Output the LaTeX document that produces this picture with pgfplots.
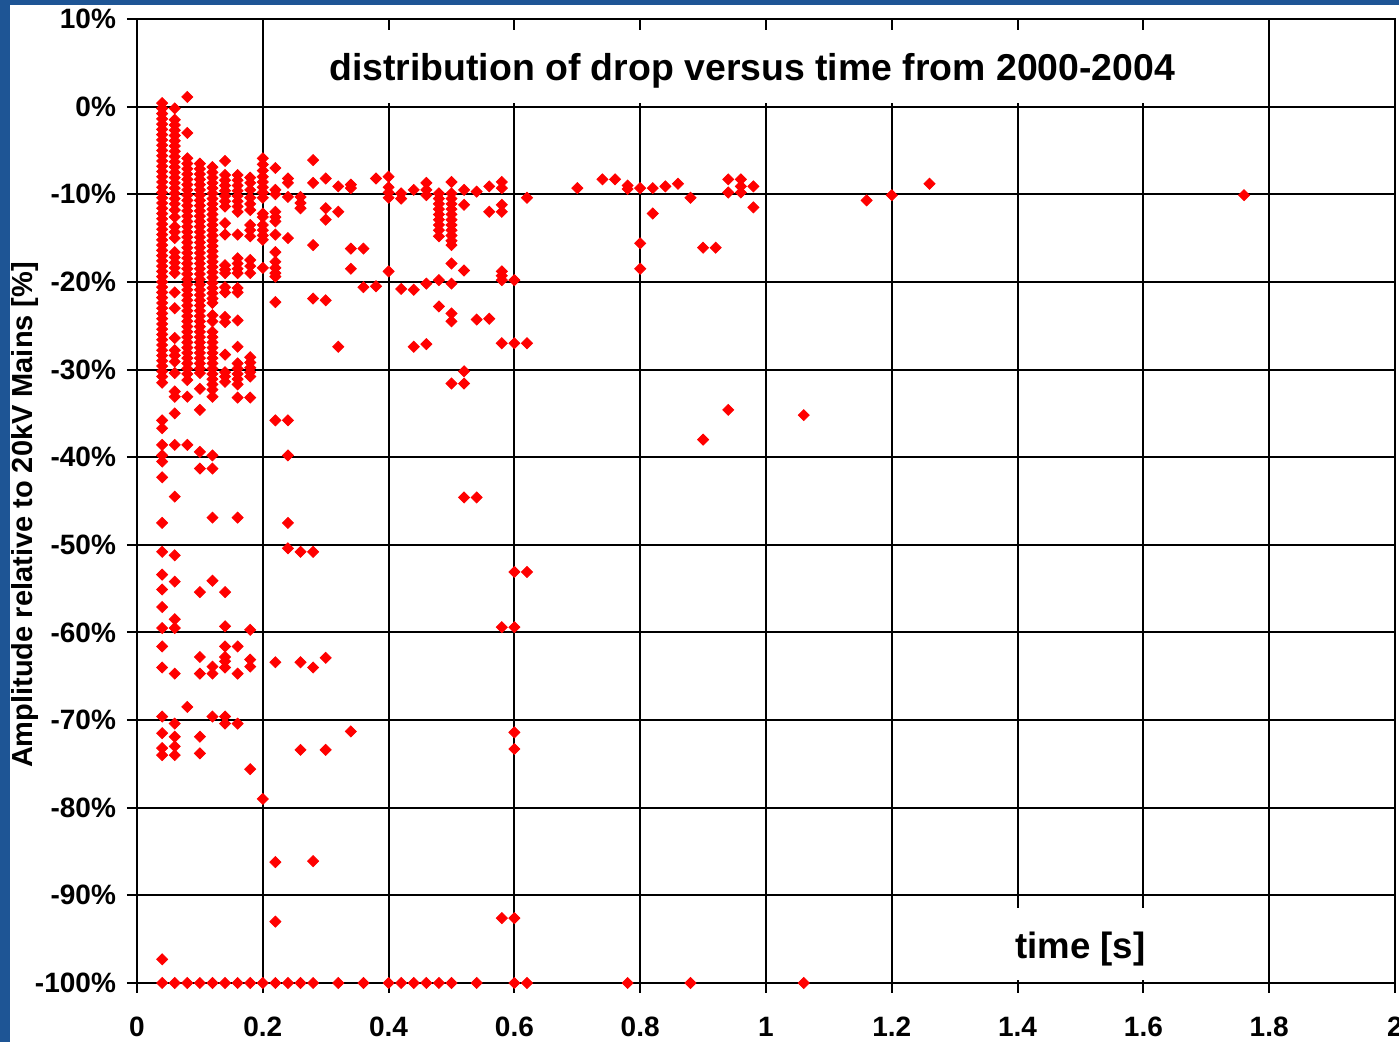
\documentclass[border=0pt]{standalone}
\usepackage{pgfplots}
\pgfplotsset{compat=1.18}
\usepackage{fontspec}
\setmainfont{Liberation Sans}
\definecolor{frameblue}{HTML}{1E5595}

\begin{document}
\begin{tikzpicture}[x=1pt,y=1pt]
% slide background: blue strip left and top, white elsewhere
\fill[frameblue] (-68.5,-29.5) rectangle (631,491.5);
\fill[white] (-63.5,-29.5) rectangle (631,489);
\begin{axis}[
  at={(0,0)}, anchor=south west,
  scale only axis, width=629pt, height=482pt,
  xmin=0, xmax=2, ymin=-100, ymax=10,
  xtick={0,0.2,0.4,0.6,0.8,1,1.2,1.4,1.6,1.8,2},
  xticklabels={0,0.2,0.4,0.6,0.8,1,1.2,1.4,1.6,1.8,2},
  ytick={-100,-90,-80,-70,-60,-50,-40,-30,-20,-10,0,10},
  yticklabels={-100\%,-90\%,-80\%,-70\%,-60\%,-50\%,-40\%,-30\%,-20\%,-10\%,0\%,10\%},
  grid=major, major grid style={black, line width=1pt},
  axis line style={black, line width=1pt},
  tick align=outside, tick pos=left, major tick length=5pt,
  tick style={black, line width=1pt},
  ticklabel style={font=\bfseries\fontsize{14}{16}\selectfont},
  xticklabel style={yshift=-8.5pt},
  yticklabel style={xshift=-2pt},
  clip=false,
]
\addplot[red, only marks, mark=square*, mark size=1.95pt, mark options={rotate=45}] coordinates {
(0.04,0.4)(0.04,-0.2)(0.04,-0.8)(0.04,-1.4)(0.04,-2.0)(0.04,-2.6)(0.04,-3.2)(0.04,-3.8)(0.04,-4.4)(0.04,-5.0)
(0.04,-5.6)(0.04,-6.2)(0.04,-6.8)(0.04,-7.4)(0.04,-8.0)(0.04,-8.6)(0.04,-9.2)(0.04,-9.8)(0.04,-10.4)(0.04,-11.0)
(0.04,-11.6)(0.04,-12.2)(0.04,-12.8)(0.04,-13.4)(0.04,-14.0)(0.04,-14.6)(0.04,-15.2)(0.04,-15.8)(0.04,-16.4)(0.04,-17.0)
(0.04,-17.6)(0.04,-18.2)(0.04,-18.8)(0.04,-19.4)(0.04,-20.0)(0.04,-20.6)(0.04,-21.2)(0.04,-21.8)(0.04,-22.4)(0.04,-23.0)
(0.04,-23.6)(0.04,-24.2)(0.04,-24.8)(0.04,-25.4)(0.04,-26.0)(0.04,-26.6)(0.04,-27.2)(0.04,-27.8)(0.04,-28.4)(0.04,-29.0)
(0.04,-29.6)(0.04,-30.2)(0.04,-30.8)(0.04,-31.5)
(0.04,-35.8)(0.04,-36.7)(0.04,-38.6)(0.04,-39.8)(0.04,-40.5)(0.04,-42.3)(0.04,-47.5)(0.04,-50.8)(0.04,-53.4)(0.04,-55.1)
(0.04,-57.1)(0.04,-59.5)(0.04,-61.6)(0.04,-64.0)(0.04,-69.6)(0.04,-71.5)(0.04,-73.2)(0.04,-74.0)(0.04,-97.3)(0.04,-100)
(0.06,-0.2)(0.06,-1.5)(0.06,-2.1)(0.06,-2.7)(0.06,-3.3)(0.06,-3.9)(0.06,-4.5)(0.06,-5.1)(0.06,-5.7)(0.06,-6.3)
(0.06,-6.9)(0.06,-7.5)(0.06,-8.1)(0.06,-8.7)(0.06,-9.3)(0.06,-9.9)(0.06,-10.5)(0.06,-11.1)(0.06,-11.8)
(0.06,-12.6)(0.06,-13.7)(0.06,-14.3)(0.06,-15.0)(0.06,-16.6)(0.06,-17.2)(0.06,-17.8)(0.06,-18.4)(0.06,-19.0)
(0.06,-21.2)(0.06,-23.0)(0.06,-26.4)(0.06,-27.8)(0.06,-28.4)(0.06,-29.1)(0.06,-30.4)(0.06,-32.5)(0.06,-33.1)
(0.06,-35.0)(0.06,-38.6)(0.06,-44.5)(0.06,-51.2)(0.06,-54.2)(0.06,-58.5)(0.06,-59.5)(0.06,-64.7)(0.06,-70.4)
(0.06,-71.9)(0.06,-73.0)(0.06,-74.0)(0.06,-100)
(0.08,1.1)(0.08,-3.0)(0.08,-5.9)(0.08,-6.5)(0.08,-7.1)(0.08,-7.7)(0.08,-8.3)(0.08,-8.9)(0.08,-9.5)(0.08,-10.1)
(0.08,-10.7)(0.08,-11.3)(0.08,-11.9)(0.08,-12.5)(0.08,-13.1)(0.08,-13.7)(0.08,-14.3)(0.08,-14.9)(0.08,-15.5)(0.08,-16.1)
(0.08,-16.7)(0.08,-17.3)(0.08,-17.9)(0.08,-18.5)(0.08,-19.1)(0.08,-19.7)(0.08,-20.3)(0.08,-20.9)(0.08,-21.5)(0.08,-22.1)
(0.08,-22.7)(0.08,-23.3)(0.08,-23.9)(0.08,-24.5)(0.08,-25.1)(0.08,-25.7)(0.08,-26.3)(0.08,-26.9)(0.08,-27.5)(0.08,-28.1)
(0.08,-28.7)(0.08,-29.3)(0.08,-29.9)(0.08,-30.5)(0.08,-31.2)(0.08,-33.1)(0.08,-38.6)(0.08,-68.5)(0.08,-100)
(0.10,-6.5)(0.10,-7.1)(0.10,-7.7)(0.10,-8.3)(0.10,-8.9)(0.10,-9.5)(0.10,-10.1)(0.10,-10.7)(0.10,-11.3)(0.10,-11.9)
(0.10,-12.5)(0.10,-13.1)(0.10,-13.7)(0.10,-14.3)(0.10,-14.9)(0.10,-15.5)(0.10,-16.1)(0.10,-16.7)(0.10,-17.3)(0.10,-17.9)
(0.10,-18.5)(0.10,-19.1)(0.10,-19.7)(0.10,-20.3)(0.10,-20.9)(0.10,-21.5)(0.10,-22.1)(0.10,-22.7)(0.10,-23.3)(0.10,-23.9)
(0.10,-24.5)(0.10,-25.1)(0.10,-25.7)(0.10,-26.3)(0.10,-26.9)(0.10,-27.5)(0.10,-28.1)(0.10,-28.7)(0.10,-29.3)(0.10,-29.9)
(0.10,-30.4)(0.10,-32.2)(0.10,-34.6)(0.10,-39.4)(0.10,-41.3)(0.10,-55.4)(0.10,-62.8)(0.10,-64.7)(0.10,-71.9)(0.10,-73.8)
(0.10,-100)
(0.12,-6.9)(0.12,-7.5)(0.12,-8.1)(0.12,-8.7)(0.12,-9.3)(0.12,-9.9)(0.12,-10.5)(0.12,-11.1)(0.12,-11.7)(0.12,-12.3)
(0.12,-12.9)(0.12,-13.5)(0.12,-14.1)(0.12,-14.7)(0.12,-15.3)(0.12,-15.9)(0.12,-16.5)(0.12,-17.1)(0.12,-17.7)(0.12,-18.3)
(0.12,-18.9)(0.12,-19.5)(0.12,-20.1)(0.12,-20.7)(0.12,-21.3)(0.12,-21.9)(0.12,-22.4)(0.12,-23.8)(0.12,-24.5)
(0.12,-25.7)(0.12,-26.3)(0.12,-26.9)(0.12,-27.5)(0.12,-28.1)(0.12,-28.7)(0.12,-29.3)(0.12,-29.9)(0.12,-30.5)(0.12,-31.1)
(0.12,-31.7)(0.12,-32.3)(0.12,-33.1)(0.12,-39.8)(0.12,-41.3)(0.12,-46.9)(0.12,-54.1)(0.12,-63.9)(0.12,-64.7)(0.12,-69.6)
(0.12,-100)
(0.14,-6.2)(0.14,-7.8)(0.14,-8.4)(0.14,-9.0)(0.14,-9.6)(0.14,-10.2)(0.14,-10.8)(0.14,-11.4)(0.14,-13.3)(0.14,-14.6)
(0.14,-18.1)(0.14,-18.6)(0.14,-19.0)(0.14,-20.6)(0.14,-21.2)(0.14,-24.0)(0.14,-24.6)(0.14,-28.3)(0.14,-30.3)(0.14,-30.8)
(0.14,-31.4)(0.14,-55.4)(0.14,-59.3)(0.14,-61.6)(0.14,-62.8)(0.14,-63.3)(0.14,-64.0)(0.14,-69.6)(0.14,-70.4)(0.14,-100)
(0.16,-7.8)(0.16,-8.4)(0.16,-9.0)(0.16,-9.6)(0.16,-10.2)(0.16,-10.8)(0.16,-11.4)(0.16,-12.0)(0.16,-14.6)
(0.16,-17.3)(0.16,-17.9)(0.16,-18.5)(0.16,-19.0)(0.16,-20.7)(0.16,-21.2)(0.16,-24.4)(0.16,-27.4)
(0.16,-29.3)(0.16,-29.9)(0.16,-30.5)(0.16,-31.1)(0.16,-31.7)(0.16,-33.2)(0.16,-46.9)(0.16,-61.6)(0.16,-64.7)(0.16,-70.4)
(0.16,-100)
(0.18,-8.1)(0.18,-8.7)(0.18,-9.5)(0.18,-10.4)(0.18,-11.1)(0.18,-11.8)(0.18,-13.5)(0.18,-14.1)(0.18,-14.8)
(0.18,-17.5)(0.18,-18.2)(0.18,-19.0)(0.18,-28.6)(0.18,-29.2)(0.18,-29.8)(0.18,-30.3)(0.18,-30.8)(0.18,-33.2)
(0.18,-59.7)(0.18,-63.1)(0.18,-63.9)(0.18,-75.6)(0.18,-100)
(0.20,-5.9)(0.20,-6.6)(0.20,-7.3)(0.20,-8.0)(0.20,-8.6)(0.20,-9.2)(0.20,-9.8)(0.20,-10.4)(0.20,-12.2)(0.20,-12.6)
(0.20,-13.5)(0.20,-14.1)(0.20,-14.7)(0.20,-15.2)(0.20,-18.4)(0.20,-79.0)(0.20,-100)
(0.22,-7.0)(0.22,-9.5)(0.22,-10.0)(0.22,-12.0)(0.22,-12.6)(0.22,-13.1)(0.22,-14.6)(0.22,-16.6)(0.22,-17.7)(0.22,-18.4)
(0.22,-19.0)(0.22,-19.4)(0.22,-22.3)(0.22,-35.8)(0.22,-63.4)(0.22,-86.2)(0.22,-93.0)(0.22,-100)
(0.24,-8.2)(0.24,-8.7)(0.24,-10.3)(0.24,-15.0)(0.24,-35.8)(0.24,-39.8)(0.24,-47.5)(0.24,-50.4)(0.24,-100)
(0.26,-10.3)(0.26,-11.0)(0.26,-11.6)(0.26,-50.8)(0.26,-63.4)(0.26,-73.4)(0.26,-100)
(0.28,-6.1)(0.28,-8.7)(0.28,-15.8)(0.28,-21.9)(0.28,-50.8)(0.28,-64.0)(0.28,-86.1)(0.28,-100)
(0.30,-8.2)(0.30,-11.6)(0.30,-12.9)(0.30,-22.1)(0.30,-62.9)(0.30,-73.4)
(0.32,-9.1)(0.32,-12.0)(0.32,-27.4)(0.32,-100)
(0.34,-8.9)(0.34,-9.3)(0.34,-16.2)(0.34,-18.5)(0.34,-71.3)
(0.36,-16.2)(0.36,-20.6)(0.36,-100)
(0.38,-8.2)(0.38,-20.5)
(0.40,-8.0)(0.40,-9.2)(0.40,-9.8)(0.40,-10.4)(0.40,-18.8)(0.40,-100)
(0.42,-9.9)(0.42,-10.5)(0.42,-20.8)(0.42,-100)
(0.44,-9.5)(0.44,-20.9)(0.44,-27.4)(0.44,-100)
(0.46,-8.7)(0.46,-9.5)(0.46,-10.1)(0.46,-20.2)(0.46,-27.1)(0.46,-100)
(0.48,-9.9)(0.48,-10.5)(0.48,-11.1)(0.48,-11.7)(0.48,-12.3)(0.48,-12.9)(0.48,-13.5)(0.48,-14.1)(0.48,-14.8)
(0.48,-19.8)(0.48,-22.8)(0.48,-100)
(0.50,-8.6)(0.50,-9.9)(0.50,-10.5)(0.50,-11.1)(0.50,-11.7)(0.50,-12.3)(0.50,-12.9)(0.50,-13.5)(0.50,-14.1)(0.50,-14.7)
(0.50,-15.3)(0.50,-15.8)(0.50,-17.9)(0.50,-20.2)(0.50,-23.6)(0.50,-24.5)(0.50,-31.6)(0.50,-100)
(0.52,-9.5)(0.52,-11.2)(0.52,-18.7)(0.52,-30.2)(0.52,-31.6)(0.52,-44.6)
(0.54,-9.7)(0.54,-24.3)(0.54,-44.6)(0.54,-100)
(0.56,-9.1)(0.56,-12.0)(0.56,-24.2)
(0.58,-8.6)(0.58,-9.3)(0.58,-11.2)(0.58,-12.0)(0.58,-18.8)(0.58,-19.3)(0.58,-19.8)(0.58,-27.0)(0.58,-59.4)(0.58,-92.6)
(0.60,-19.8)(0.60,-27.0)(0.60,-53.1)(0.60,-59.4)(0.60,-71.4)(0.60,-73.3)(0.60,-92.6)(0.60,-100)
(0.62,-10.4)(0.62,-27.0)(0.62,-53.1)(0.62,-100)
(0.70,-9.3)(0.74,-8.3)(0.76,-8.3)(0.78,-9.0)(0.78,-9.4)(0.78,-100)
(0.80,-9.3)(0.80,-15.6)(0.80,-18.5)(0.82,-9.3)(0.82,-12.2)(0.84,-9.1)(0.86,-8.8)(0.88,-10.4)(0.88,-100)
(0.90,-16.1)(0.90,-38.0)(0.92,-16.1)(0.94,-8.3)(0.94,-9.8)(0.94,-34.6)(0.96,-8.3)(0.96,-9.1)(0.96,-9.8)
(0.98,-9.1)(0.98,-11.5)(1.06,-35.2)(1.06,-100)(1.16,-10.7)(1.20,-10.1)(1.26,-8.8)(1.76,-10.1)
};
% white label boxes that hide the grid behind the title and the x label
\fill[white] (axis cs:0.26,8.74) rectangle (axis cs:1.70,0.45);
\fill[white] (axis cs:1.374,-91.4) rectangle (axis cs:1.626,-99.7);
\node[font=\bfseries\fontsize{18.7}{22}\selectfont, inner sep=0pt]
  at (axis cs:0.978,4.6) [yshift=-2.5pt] {distribution of drop versus time from 2000-2004};
\node[font=\bfseries\fontsize{18.3}{22}\selectfont, inner sep=0pt]
  at (axis cs:1.5,-95.55) [yshift=-2.5pt] {time [s]};
\node[rotate=90, font=\bfseries\fontsize{14.5}{17}\selectfont]
  at (rel axis cs:-0.089,0.4855) {Amplitude relative to 20kV Mains [\%]};
\end{axis}
\pgfresetboundingbox
\path[use as bounding box] (-68.5,-29.5) rectangle (631,491.5);
\end{tikzpicture}
\end{document}
